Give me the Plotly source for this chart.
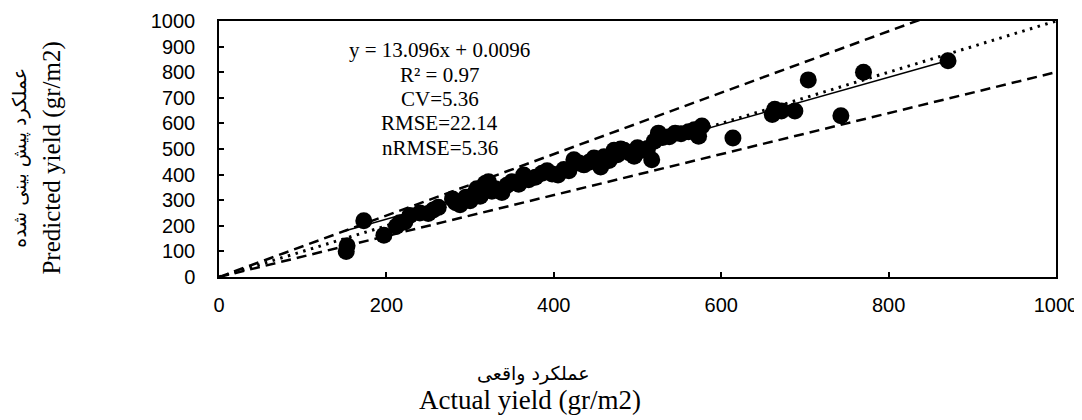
import plotly.graph_objects as go

# Actual vs. predicted yield (gr/m2)
actual = [152, 153, 173, 197, 212, 216, 222, 228, 240, 250, 256, 262, 279, 283, 288,
          295, 300, 305, 308, 312, 318, 322, 326, 330, 338, 344, 350, 358, 364, 370,
          378, 386, 392, 398, 405, 412, 418, 424, 430, 436, 442, 448, 452, 456, 460,
          466, 472, 476, 480, 484, 490, 496, 500, 506, 512, 517, 520, 525, 530, 538,
          545, 552, 561, 568, 573, 577, 614, 661, 664, 672, 688, 704, 743, 770, 871]
predicted = [100, 122, 220, 163, 198, 212, 215, 240, 250, 248, 262, 272, 305, 290, 282,
             312, 298, 325, 345, 315, 365, 372, 335, 345, 330, 358, 372, 362, 398, 380,
             390, 405, 415, 402, 398, 420, 415, 458, 445, 438, 448, 465, 450, 430, 470,
             455, 495, 478, 500, 495, 485, 472, 505, 495, 502, 458, 530, 562, 545, 548,
             562, 560, 567, 575, 550, 590, 543, 635, 655, 648, 648, 770, 630, 800, 845]

# reference lines (1:1, +20 %, -20 %) and fitted trend line end points
ref_x = [0, 1000]
line_1to1 = [0, 1000]
line_upper = [0, 1200]
line_lower = [0, 800]
fit_x = [150, 871]
fit_y = [180, 846]

stats_lines = ["y = 13.096x + 0.0096", "R² = 0.97", "CV=5.36", "RMSE=22.14", "nRMSE=5.36"]
stats_x = 264
stats_y = [887, 789, 695, 602, 504]   # line positions in data units

SERIF = "Liberation Serif, Times New Roman, DejaVu Serif"
ARAB = "DejaVu Sans, Liberation Serif"
SANS = "Liberation Sans, Arial"

fig = go.Figure()
fig.add_trace(go.Scatter(x=ref_x, y=line_upper, mode="lines",
                         line=dict(color="black", width=2.5, dash="10px,6px")))
fig.add_trace(go.Scatter(x=ref_x, y=line_lower, mode="lines",
                         line=dict(color="black", width=2.5, dash="10px,6px")))
fig.add_trace(go.Scatter(x=ref_x, y=line_1to1, mode="lines",
                         line=dict(color="black", width=3, dash="2.5px,5.5px")))
fig.add_trace(go.Scatter(x=fit_x, y=fit_y, mode="lines",
                         line=dict(color="black", width=1.5)))
fig.add_trace(go.Scatter(x=actual, y=predicted, mode="markers",
                         marker=dict(color="black", size=17)))

for txt, yy in zip(stats_lines, stats_y):
    fig.add_annotation(x=stats_x, y=yy, xref="x", yref="y", text=txt,
                       xanchor="center", yanchor="middle", showarrow=False,
                       font=dict(family=SERIF, size=21, color="black"))

# axis titles (Persian + English), placed as annotations
title_common = dict(xref="paper", yref="paper", showarrow=False, xanchor="center", yanchor="middle")
fig.add_annotation(x=0.376, y=-0.375, text="عملکرد واقعی",
                   font=dict(family=ARAB, size=19, color="black"), **title_common)
fig.add_annotation(x=0.372, y=-0.48, text="Actual yield (gr/m2)",
                   font=dict(family=SERIF, size=27, color="black"), **title_common)
fig.add_annotation(x=-0.238, y=0.465, text="عملکرد پیش بینی شده", textangle=-90,
                   font=dict(family=ARAB, size=19, color="black"), **title_common)
fig.add_annotation(x=-0.2, y=0.465, text="Predicted yield (gr/m2)", textangle=-90,
                   font=dict(family=SERIF, size=25, color="black"), **title_common)

axis_common = dict(showgrid=False, zeroline=False, showline=True, linecolor="black", linewidth=1.5,
                   mirror=True, ticks="inside", ticklen=5, tickcolor="black", tickwidth=1.5,
                   automargin=False, tickfont=dict(family=SANS, size=20, color="black"))
fig.update_xaxes(range=[0, 1000], tickvals=[0, 200, 400, 600, 800, 1000], ticklabelstandoff=9,
                 **axis_common)
fig.update_yaxes(range=[0, 1000], dtick=100, ticklabelstandoff=18, **axis_common)

# the page adds an 8px body margin, so the figure is 8px smaller and margins shifted
fig.update_layout(width=1074, height=412, showlegend=False, plot_bgcolor="white",
                  paper_bgcolor="white", margin=dict(l=211, r=26, t=13, b=143))

fig.write_html("out.html")
